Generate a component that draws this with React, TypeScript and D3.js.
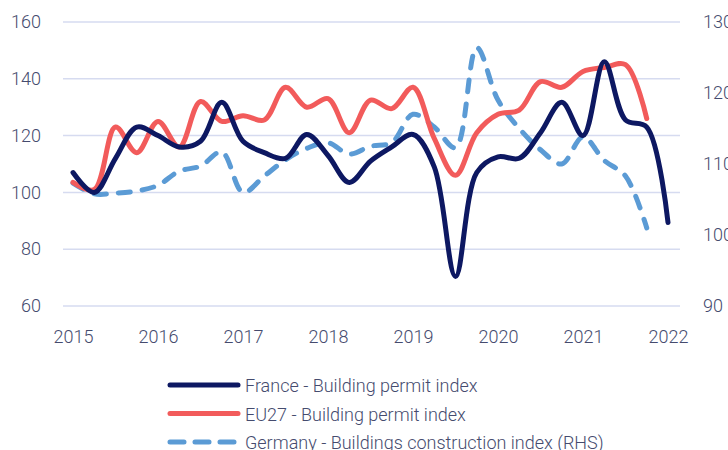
import React, { useEffect, useRef } from "react";
import * as d3 from "d3";

// quarterly observations, 2015Q1 .. 2022Q1
const quarters: number[] = d3.range(0, 29).map((k) => 2015 + k * 0.25);

const france: number[] = [
  107, 100, 112, 123, 120, 116, 118, 131.7, 118, 114, 112, 120.4, 113, 103.5,
  111, 116, 120.4, 109, 70.4, 107, 112.5, 112, 121, 131.7, 120, 146, 125.5, 123, 89.4,
];
const eu27: number[] = [
  103.5, 101, 123, 114, 125, 116, 132, 125, 127, 125.5, 137, 130, 133, 121,
  132.5, 129.5, 137, 119, 106, 121, 127.5, 129, 139, 137, 142.6, 144, 145, 126,
];
const germany: number[] = [
  107.3, 105.8, 105.9, 106.2, 107, 109, 109.7, 111.7, 106, 108.3, 110.6, 112.2,
  113, 111.4, 112.5, 113, 117, 115.2, 112.3, 126.4, 119, 115, 112, 110, 113.8,
  110.5, 108.3, 101,
];

const years: number[] = [2015, 2016, 2017, 2018, 2019, 2020, 2021, 2022];
const leftTicks: number[] = [60, 80, 100, 120, 140, 160];
const rightTicks: number[] = [90, 100, 110, 120, 130];

const legendItems = [
  { label: "France - Building permit index", color: "#0d1862", dash: null },
  { label: "EU27 - Building permit index", color: "#f25b5b", dash: null },
  { label: "Germany - Buildings construction index (RHS)", color: "#5b9bd5", dash: "14 11" },
];

const font = "Roboto, sans-serif";
const textColor = "#454b6e";

export default function App() {
  const ref = useRef<SVGSVGElement>(null);

  useEffect(() => {
    const svg = d3.select(ref.current);
    svg.selectAll("*").remove();

    const x = d3.scaleLinear().domain([2015, 2022]).range([73, 668]);
    const yL = d3.scaleLinear().domain([60, 160]).range([306, 22]);
    const yR = d3.scaleLinear().domain([90, 130]).range([306, 22]);

    // gridlines
    svg.append("g")
      .selectAll("line")
      .data(leftTicks)
      .enter()
      .append("line")
      .attr("x1", 63)
      .attr("x2", 680)
      .attr("y1", (d) => yL(d))
      .attr("y2", (d) => yL(d))
      .attr("stroke", "#d6dbf0")
      .attr("stroke-width", 1.5);

    // axes
    const gl = svg.append("g")
      .attr("transform", "translate(41,0)")
      .call(d3.axisLeft(yL).tickValues(leftTicks).tickSize(0).tickPadding(0));
    const gr = svg.append("g")
      .attr("transform", "translate(703,0)")
      .call(d3.axisRight(yR).tickValues(rightTicks).tickSize(0).tickPadding(0));
    const gb = svg.append("g")
      .attr("transform", "translate(0,318)")
      .call(d3.axisBottom(x).tickValues(years).tickFormat(d3.format("d")).tickSize(0).tickPadding(12));

    [gl, gr, gb].forEach((g) => {
      g.select(".domain").remove();
      g.selectAll("text")
        .attr("fill", textColor)
        .style("font-family", font)
        .style("font-weight", 300)
        .style("font-size", "18px");
    });

    const line = (scale: d3.ScaleLinear<number, number>) =>
      d3.line<number>()
        .x((d, i) => x(quarters[i]))
        .y((d) => scale(d))
        .curve(d3.curveCatmullRom.alpha(0.5));

    svg.append("path")
      .datum(germany)
      .attr("d", line(yR))
      .attr("fill", "none")
      .attr("stroke", "#5b9bd5")
      .attr("stroke-width", 5)
      .attr("stroke-dasharray", "12 12")
      .attr("stroke-linecap", "round");

    svg.append("path")
      .datum(eu27)
      .attr("d", line(yL))
      .attr("fill", "none")
      .attr("stroke", "#f25b5b")
      .attr("stroke-width", 5)
      .attr("stroke-linecap", "round");

    svg.append("path")
      .datum(france)
      .attr("d", line(yL))
      .attr("fill", "none")
      .attr("stroke", "#0d1862")
      .attr("stroke-width", 5)
      .attr("stroke-linecap", "round");

    // legend
    const lg = svg.append("g")
      .selectAll("g")
      .data(legendItems)
      .enter()
      .append("g")
      .attr("transform", (d, i) => `translate(0,${385 + i * 28.5})`);
    lg.append("line")
      .attr("x1", 170)
      .attr("x2", 238)
      .attr("stroke", (d) => d.color)
      .attr("stroke-width", 5)
      .attr("stroke-linecap", "round")
      .attr("stroke-dasharray", (d) => d.dash);
    lg.append("text")
      .attr("x", 245)
      .attr("y", 7)
      .attr("fill", textColor)
      .style("font-family", font)
      .style("font-weight", 300)
      .style("font-size", "18px")
      .text((d) => d.label);
  }, []);

  return (
    <svg ref={ref} width={728} height={450}
      style={{ position: "absolute", left: 0, top: 0, background: "#fff" }} />
  );
}
